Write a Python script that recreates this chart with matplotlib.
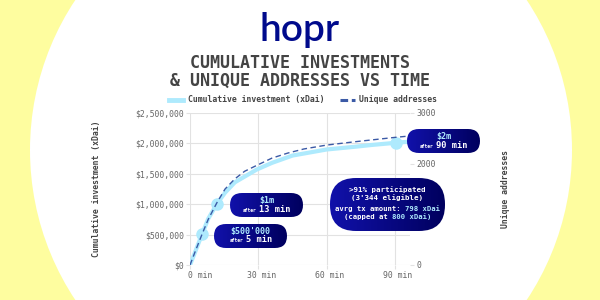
import matplotlib.pyplot as plt
import matplotlib.transforms as mtransforms
import numpy as np
from matplotlib.patches import Ellipse, FancyBboxPatch
from matplotlib.lines import Line2D
from matplotlib.colors import LinearSegmentedColormap

# cumulative investment (xDai) over time (minutes)
invest_min = [0, 2, 5.4, 8, 11.7, 15.4, 19.7, 29.3, 36, 45, 60, 72.5, 80, 90.3, 96.6]
invest_xdai = [0, 190000, 517000, 760000, 1000000, 1190000, 1360000, 1570000,
               1680000, 1800000, 1900000, 1945000, 1975000, 2010000, 2030000]

# unique addresses over time (minutes)
addr_min = [0, 2, 5.4, 8, 11.7, 15.4, 19.7, 24, 29.3, 36, 43, 50, 60, 72.5, 90.3, 96.6]
addr_count = [0, 233, 620, 900, 1220, 1500, 1700, 1850, 1966, 2110, 2210, 2290,
              2367, 2433, 2520, 2547]

# milestones
mark_min = [5.4, 11.7, 90.3]
mark_xdai = [517000, 1000000, 2010000]
mark_label = ["$500'000", "$1m", "$2m"]
mark_after = ["5 min", "13 min", "90 min"]

x_ticks = [0, 30, 60, 90]
x_ticklabels = ["0 min", "30 min", "60 min", "90 min"]
y_ticks = [0, 500000, 1000000, 1500000, 2000000, 2500000]
y_ticklabels = ["$0", "$500,000", "$1,000,000", "$1,500,000", "$2,000,000", "$2,500,000"]
y2_ticks = [0, 1000, 2000, 3000]
y2_ticklabels = ["0", "", "2000", "3000"]  # 1000 sits under the big pill

YELLOW = "#fefd9f"
LIGHT = "#aeeafd"
DASH = "#3b5aa6"
NAVY = "#000a8c"
GREY = "#444444"
TICK = "#666666"
MONO = "DejaVu Sans Mono"

fig = plt.figure(figsize=(6, 3), dpi=100, facecolor=YELLOW)

# background: big white circle
bg = fig.add_axes([0, 0, 1, 1])
bg.set_xlim(0, 600)
bg.set_ylim(300, 0)
bg.axis("off")
bg.set_zorder(0)
bg.add_patch(Ellipse((301, 150), 542, 542, facecolor="white", edgecolor="none"))

# main chart
ax = fig.add_axes([190 / 600, 1 - 265 / 300, 220 / 600, 152 / 300])
ax.set_zorder(1)
ax.patch.set_visible(False)
ax.plot(invest_min, invest_xdai, color=LIGHT, lw=3, solid_capstyle="round", zorder=2)
ax.plot(mark_min, mark_xdai, "o", color=LIGHT, ms=8, zorder=3)
ax.set_xlim(0, 96.6)
ax.set_ylim(0, 2500000)
ax.set_xticks(x_ticks)
ax.set_xticklabels(x_ticklabels)
ax.set_yticks(y_ticks)
ax.set_yticklabels(y_ticklabels)
ax.grid(True, color="#e2e2e2", lw=0.8)
for s in ax.spines.values():
    s.set_visible(False)
ax.tick_params(colors="#e2e2e2", labelcolor=TICK, labelsize=5.9, length=3, pad=1.5)
for lab in ax.get_xticklabels() + ax.get_yticklabels():
    lab.set_family(MONO)
# x labels sit a little right of their ticks, the first one more so
for i, lab in enumerate(ax.get_xticklabels()):
    dx = 10 if i == 0 else 3
    lab.set_transform(lab.get_transform()
                      + mtransforms.ScaledTranslation(dx / 100, 0, fig.dpi_scale_trans))
ax.set_ylabel("Cumulative investment (xDai)", family=MONO, fontsize=5.9,
              fontweight="bold", color=GREY)
ax.yaxis.set_label_coords(-0.405, 0.5)

ax2 = ax.twinx()
ax2.set_zorder(2)
ax2.patch.set_visible(False)
ax2.plot(addr_min, addr_count, color=DASH, lw=1, dashes=(4, 2.5))
ax2.set_ylim(0, 3000)
ax2.set_yticks(y2_ticks)
ax2.set_yticklabels(y2_ticklabels)
for s in ax2.spines.values():
    s.set_visible(False)
ax2.tick_params(colors="#e2e2e2", labelcolor=TICK, labelsize=5.9, length=3, pad=1.5)
for lab in ax2.get_yticklabels():
    lab.set_family(MONO)
ax2.set_ylabel("Unique addresses", family=MONO, fontsize=5.9, fontweight="bold",
               color=GREY)
ax2.yaxis.set_label_coords(1.414, 0.5)

# legend
handles = [Line2D([], [], color=LIGHT, lw=3.5),
           Line2D([], [], color=DASH, lw=2.2, dashes=(2.5, 1.2))]
fig.legend(handles, ["Cumulative investment (xDai)", "Unique addresses"],
           loc="center", bbox_to_anchor=(303 / 600, 1 - 100 / 300), ncol=2,
           frameon=False, handlelength=1.8, handletextpad=0.5, columnspacing=2,
           prop={"family": MONO, "size": 5.9, "weight": "bold"},
           labelcolor=GREY)

# header
fig.text(0.5, 1 - 30 / 300, "hopr", family="Lato", fontsize=28, color=NAVY,
         ha="center", va="center", fontweight="semibold")
fig.text(0.5, 1 - 62.5 / 300, "CUMULATIVE INVESTMENTS", family=MONO, fontsize=12,
         fontweight="bold", color=GREY, ha="center", va="center")
fig.text(0.5, 1 - 80.5 / 300, "& UNIQUE ADDRESSES VS TIME", family=MONO,
         fontsize=12, fontweight="bold", color=GREY, ha="center", va="center")

# overlay for annotation pills
ov = fig.add_axes([0, 0, 1, 1])
ov.set_zorder(3)
ov.patch.set_visible(False)
ov.axis("off")
ov.set_autoscale_on(False)
ov.set_xlim(0, 600)
ov.set_ylim(300, 0)

cmap = LinearSegmentedColormap.from_list("pill", ["#1111aa", "#00005e"])
grad = np.linspace(0, 1, 256).reshape(1, -1)


def pill(x0, y0, w, h, r):
    box = FancyBboxPatch((x0, y0), w, h, boxstyle=f"round,pad=0,rounding_size={r}",
                         transform=ov.transData, facecolor="none", edgecolor="none")
    ov.add_patch(box)
    im = ov.imshow(grad, extent=(x0, x0 + w, y0 + h, y0), cmap=cmap, aspect="auto")
    im.set_clip_path(box)


def adv(size):
    return 0.602 * size * 100 / 72


def segments(cx, y, parts, size, weight="bold"):
    total = sum(len(t) for t, c in parts) * adv(size)
    x = cx - total / 2
    for t, c in parts:
        ov.text(x, y, t, ha="left", va="center", family=MONO, fontsize=size,
                fontweight=weight, color=c)
        x += len(t) * adv(size)


boxes = [(214, 224), (230, 193), (407, 129)]
for (bx, by), lab, aft in zip(boxes, mark_label, mark_after):
    pill(bx, by, 73, 24, 12)
    cx = bx + 36.5
    ov.text(cx, by + 7.5, lab, ha="center", va="center", family=MONO, fontsize=6,
            fontweight="bold", color=LIGHT)
    w_after = 5 * adv(3.3)
    w_min = len(aft) * adv(6.2)
    x = cx - (w_after + 2.5 + w_min) / 2
    ov.text(x, by + 18.5, "after", ha="left", va="baseline", family=MONO,
            fontsize=3.3, fontweight="bold", color="white")
    ov.text(x + w_after + 2.5, by + 18.5, aft, ha="left", va="baseline",
            family=MONO, fontsize=6.2, fontweight="bold", color="white")

pill(330, 178, 115, 53, 26)
segments(387.5, 190, [(">91% participated", "white")], 5.4)
segments(387.5, 197.5, [("(3'344 eligible)", "white")], 5.4)
segments(387.5, 209, [("avrg tx amount: ", "white"), ("798 xDai", LIGHT)], 5.2)
segments(387.5, 216.5, [("(capped at ", "white"), ("800 xDai)", LIGHT)], 5.2)

fig.savefig("out.png", dpi=100, facecolor=YELLOW)
